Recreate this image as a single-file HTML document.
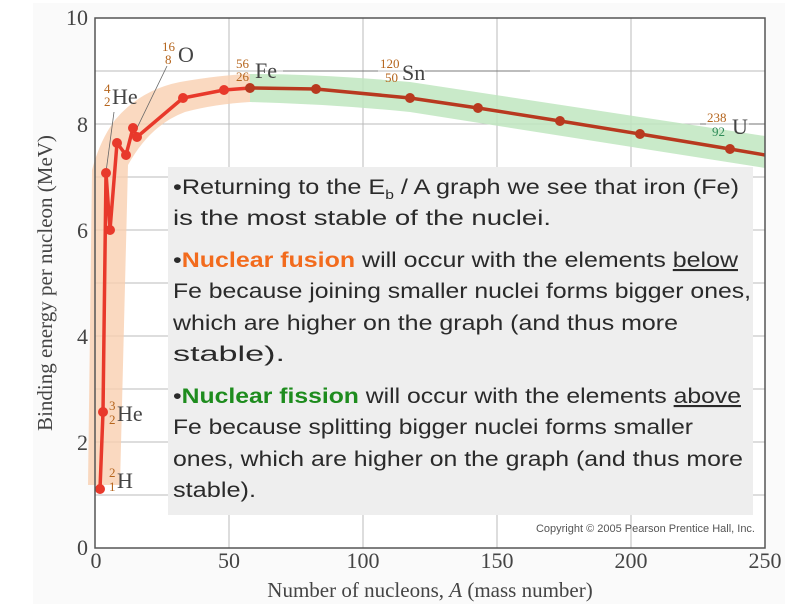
<!DOCTYPE html>
<html><head><meta charset="utf-8"><style>
body{margin:0;background:#fff;width:800px;height:604px;overflow:hidden}
</style></head><body>
<svg width="800" height="604" xmlns="http://www.w3.org/2000/svg" font-family="Liberation Serif, serif">
<rect x="0" y="0" width="800" height="604" fill="#fff"/>
<rect x="33" y="3" width="752" height="601" fill="#fafafa"/>
<rect x="95" y="18" width="670" height="530" fill="#fff"/>
<g stroke="#bbb" stroke-width="1">
<line x1="229" y1="18" x2="229" y2="548"/><line x1="363" y1="18" x2="363" y2="548"/>
<line x1="497" y1="18" x2="497" y2="548"/><line x1="631" y1="18" x2="631" y2="548"/>
<line x1="95" y1="71" x2="765" y2="71"/><line x1="95" y1="124" x2="765" y2="124"/>
<line x1="95" y1="177" x2="765" y2="177"/><line x1="95" y1="230" x2="765" y2="230"/>
<line x1="95" y1="283" x2="765" y2="283"/><line x1="95" y1="336" x2="765" y2="336"/>
<line x1="95" y1="389" x2="765" y2="389"/><line x1="95" y1="442" x2="765" y2="442"/>
<line x1="95" y1="495" x2="765" y2="495"/>
</g>
<path d="M88,485 L92,170 Q100,140 115,120 Q140,90 180,82 Q220,75 250,74 L250,102 Q215,104 185,112 Q150,125 128,165 L120,485 Z" fill="#f9cfb0" opacity="0.8"/>
<path d="M250,74 Q320,74 410,82 L765,136 L765,168 L410,112 Q330,104 250,102 Z" fill="#bfe6bf" opacity="0.85"/>
<g stroke="#666" stroke-width="0.8" fill="none">
<line x1="106" y1="172" x2="114" y2="112"/>
<line x1="137" y1="128" x2="167" y2="66"/>
<line x1="283" y1="71" x2="378" y2="71"/><line x1="425" y1="71" x2="530" y2="71"/>
<line x1="700" y1="124" x2="706" y2="124"/><line x1="749" y1="124" x2="765" y2="124"/>
</g>
<polyline fill="none" stroke="#e8392b" stroke-width="3.5" stroke-linejoin="round" points="100,489 103,412 106,173 110,230 117,143 126,155 133,128 137,137 183,98 224,90 250,88"/>
<polyline fill="none" stroke="#b8391f" stroke-width="3.5" stroke-linejoin="round" points="250,88 316,89 410,98 478,108 560,121 640,134 730,149 765,155"/>
<g fill="#e8392b"><circle cx="100" cy="489" r="5"/><circle cx="103" cy="412" r="5"/><circle cx="106" cy="173" r="5"/><circle cx="110" cy="230" r="5"/><circle cx="117" cy="143" r="5"/><circle cx="126" cy="155" r="5"/><circle cx="133" cy="128" r="5"/><circle cx="137" cy="137" r="5"/><circle cx="183" cy="98" r="5"/><circle cx="224" cy="90" r="5"/></g>
<g fill="#b8391f"><circle cx="250" cy="88" r="5"/><circle cx="316" cy="89" r="5"/><circle cx="410" cy="98" r="5"/><circle cx="478" cy="108" r="5"/><circle cx="560" cy="121" r="5"/><circle cx="640" cy="134" r="5"/><circle cx="730" cy="149" r="5"/></g>
<rect x="95" y="18" width="670" height="530" fill="none" stroke="#555" stroke-width="1.5"/>
<g fill="#444" font-size="22">
<text x="112" y="104">He</text><text x="104" y="93" font-size="13" fill="#b5651d">4</text><text x="104" y="106" font-size="13" fill="#b5651d">2</text>
<text x="178" y="62">O</text><text x="162" y="51" font-size="13" fill="#b5651d">16</text><text x="165" y="64" font-size="13" fill="#b5651d">8</text>
<text x="255" y="78">Fe</text><text x="236" y="68" font-size="13" fill="#b5651d">56</text><text x="236" y="81" font-size="13" fill="#b5651d">26</text>
<text x="402" y="80">Sn</text><text x="380" y="68" font-size="13" fill="#b5651d">120</text><text x="385" y="82" font-size="13" fill="#b5651d">50</text>
<text x="732" y="134">U</text><text x="707" y="122" font-size="13" fill="#b5651d">238</text><text x="712" y="136" font-size="13" fill="#2e8b57">92</text>
<text x="117" y="421">He</text><text x="109" y="410" font-size="13" fill="#b5651d">3</text><text x="109" y="424" font-size="13" fill="#b5651d">2</text>
<text x="117" y="488">H</text><text x="109" y="477" font-size="13" fill="#b5651d">2</text><text x="109" y="491" font-size="13" fill="#b5651d">1</text>
</g>
<g fill="#444" font-size="22" text-anchor="end">
<text x="88" y="25">10</text><text x="88" y="132">8</text><text x="88" y="238">6</text>
<text x="88" y="344">4</text><text x="88" y="450">2</text><text x="88" y="555">0</text>
</g>
<g fill="#444" font-size="22" text-anchor="middle">
<text x="96" y="568">0</text><text x="229" y="568">50</text><text x="363" y="568">100</text>
<text x="497" y="568">150</text><text x="631" y="568">200</text><text x="765" y="568">250</text>
</g>
<text x="430" y="597" text-anchor="middle" font-size="21" fill="#444">Number of nucleons, <tspan font-style="italic">A</tspan> (mass number)</text>
<text transform="translate(52,283) rotate(-90)" text-anchor="middle" font-size="21" fill="#444">Binding energy per nucleon (MeV)</text>
<rect x="168" y="167" width="585" height="348" fill="#eeeeee"/>
<g font-family="Liberation Sans, sans-serif" font-size="21" fill="#2a2a2a">
<text x="173" y="194" textLength="566" lengthAdjust="spacingAndGlyphs">•Returning to the E<tspan font-size="13" dy="5">b</tspan><tspan dy="-5"> / A graph we see that iron (Fe)</tspan></text>
<text x="173" y="225" textLength="378" lengthAdjust="spacingAndGlyphs">is the most stable of the nuclei.</text>
<text x="173" y="267" textLength="565" lengthAdjust="spacingAndGlyphs">•<tspan fill="#f26b1d" font-weight="bold">Nuclear fusion</tspan> will occur with the elements <tspan text-decoration="underline">below</tspan></text>
<text x="173" y="298" textLength="578" lengthAdjust="spacingAndGlyphs">Fe because joining smaller nuclei forms bigger ones,</text>
<text x="173" y="330" textLength="505" lengthAdjust="spacingAndGlyphs">which are higher on the graph (and thus more</text>
<text x="173" y="361" textLength="112" lengthAdjust="spacingAndGlyphs">stable).</text>
<text x="173" y="403" textLength="568" lengthAdjust="spacingAndGlyphs">•<tspan fill="#1e8c1e" font-weight="bold">Nuclear fission</tspan> will occur with the elements <tspan text-decoration="underline">above</tspan></text>
<text x="173" y="434" textLength="520" lengthAdjust="spacingAndGlyphs">Fe because splitting bigger nuclei forms smaller</text>
<text x="173" y="466" textLength="570" lengthAdjust="spacingAndGlyphs">ones, which are higher on the graph (and thus more</text>
<text x="173" y="497" textLength="83" lengthAdjust="spacingAndGlyphs">stable).</text>
</g>
<text x="755" y="532" text-anchor="end" font-family="Liberation Sans, sans-serif" font-size="11" fill="#555">Copyright © 2005 Pearson Prentice Hall, Inc.</text>
</svg>
</body></html>
